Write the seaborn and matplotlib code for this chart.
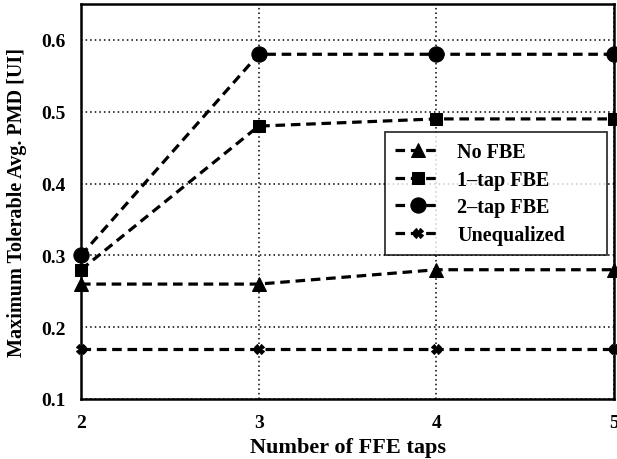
import matplotlib
matplotlib.use("Agg")
import matplotlib.pyplot as plt
import seaborn as sns
import pandas as pd

taps = [2, 3, 4, 5]
no_fbe = [0.26, 0.26, 0.28, 0.28]
fbe_1tap = [0.28, 0.48, 0.49, 0.49]
fbe_2tap = [0.30, 0.58, 0.58, 0.58]
unequalized = [0.17, 0.17, 0.17, 0.17]
series_names = ["No FBE", "1\u2013tap FBE", "2\u2013tap FBE", "Unequalized"]
y_ticks = [0.1, 0.2, 0.3, 0.4, 0.5, 0.6]

df = pd.DataFrame({
    "taps": taps * 4,
    "pmd": no_fbe + fbe_1tap + fbe_2tap + unequalized,
    "scheme": sum([[n] * len(taps) for n in series_names], []),
})

sns.set_theme(style="white")
plt.rcParams["font.family"] = ["Liberation Serif", "DejaVu Serif"]
plt.rcParams["font.weight"] = "bold"
for key in ("text.color", "axes.labelcolor", "xtick.color", "ytick.color"):
    plt.rcParams[key] = "black"

fig = plt.figure(figsize=(6.17, 4.6), dpi=100)
ax = fig.add_axes([81 / 617, 60 / 460, 533 / 617, 395 / 460])

markers = {"No FBE": "^", "1\u2013tap FBE": "s", "2\u2013tap FBE": "o", "Unequalized": "X"}
sizes = {"No FBE": 10.5, "1\u2013tap FBE": 8.5, "2\u2013tap FBE": 11, "Unequalized": 6.5}

for name in series_names:
    sub = df[df["scheme"] == name]
    sns.lineplot(data=sub, x="taps", y="pmd", ax=ax, color="black",
                 linestyle=(0, (3.0, 1.8)), linewidth=2.3,
                 marker=markers[name], markersize=sizes[name],
                 markeredgecolor="black", markerfacecolor="black",
                 label=name, clip_on=False, zorder=3)

ax.set_xlim(2, 5)
ax.set_ylim(0.1, 0.65)
ax.set_xticks(taps)
ax.set_yticks(y_ticks)
ax.set_xticklabels([str(t) for t in taps], fontsize=14, fontweight="bold")
ax.set_yticklabels([f"{v:.1f}" for v in y_ticks], fontsize=14, fontweight="bold")
ax.tick_params(axis="both", length=0, pad=11)

ax.grid(True, color="black", linestyle=(0, (1, 2)), linewidth=1.1)
for s in ax.spines.values():
    s.set_color("black")
    s.set_linewidth(1.8)

ax.set_xlabel("Number of FFE taps", fontsize=16, fontweight="bold", labelpad=4)
ax.set_ylabel("Maximum Tolerable Avg. PMD [UI]", fontsize=14.5, fontweight="bold", labelpad=10)

# legend box stretched to a fixed width, entries kept to the left
leg = ax.legend(loc="upper left", bbox_to_anchor=(0.570, 0.0, 0.417, 0.676),
                mode="expand", fontsize=14.5,
                frameon=True, fancybox=False, handlelength=2.3,
                borderpad=0.5, labelspacing=0.38, handletextpad=0.8,
                borderaxespad=0)
leg.get_frame().set_edgecolor("black")
leg.get_frame().set_linewidth(1.3)
for t in leg.get_texts():
    t.set_fontweight("bold")

fig.savefig("out.png", dpi=100)
